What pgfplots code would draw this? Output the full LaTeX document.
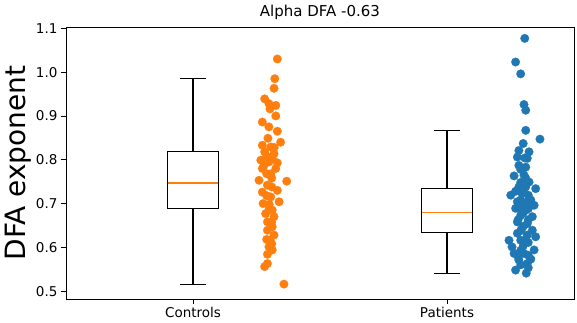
\documentclass[border=0pt]{standalone}
\usepackage{fontspec}
\setmainfont{DejaVu Sans}
\usepackage{pgfplots}
\pgfplotsset{compat=1.18}
\usepgfplotslibrary{statistics}
\definecolor{c0}{HTML}{1F77B4}
\definecolor{c1}{HTML}{FF7F0E}
\begin{document}
\begin{tikzpicture}
\begin{axis}[
  at={(0,0)}, anchor=south west,
  scale only axis, width=508pt, height=272pt,
  xmin=0.5, xmax=2.5, ymin=0.482, ymax=1.103,
  xtick={1,2}, xticklabels={Controls,Patients},
  ytick={0.5,0.6,0.7,0.8,0.9,1.0,1.1},
  yticklabels={0.5,0.6,0.7,0.8,0.9,1.0,1.1},
  tick align=outside, major tick length=5pt,
  tick style={black, line width=0.8pt},
  xtick pos=bottom, ytick pos=left,
  axis line style={line width=0.8pt},
  ticklabel style={font=\fontsize{13.5}{16}\selectfont},
  /pgf/number format/assume math mode=true,
  boxplot/draw direction=y,
  title={Alpha DFA -0.63},
  title style={at={(axis description cs:0.5,1)}, anchor=base, yshift=4pt, font=\fontsize{15}{18}\selectfont},
  ylabel={DFA exponent},
  ylabel style={at={(axis description cs:-0.0945,0.5)}, anchor=center, font=\fontsize{28}{32}\selectfont},
]
% Controls box
\addplot[draw=black, line width=1.1pt, mark=none,
  boxplot prepared={draw position=1, median=0.747, upper quartile=0.819, lower quartile=0.688,
  upper whisker=0.985, lower whisker=0.516, box extend=0.2, whisker extend=0.1,
  every median/.style={draw=c1, line width=1.2pt}}] coordinates {};
% Patients box
\addplot[draw=black, line width=1.1pt, mark=none,
  boxplot prepared={draw position=2, median=0.680, upper quartile=0.734, lower quartile=0.634,
  upper whisker=0.867, lower whisker=0.541, box extend=0.2, whisker extend=0.1,
  every median/.style={draw=c1, line width=1.2pt}}] coordinates {};
% Controls points
\addplot[only marks, color=c1, mark=*, mark size=4.3pt, mark options={draw=c1, fill=c1, line width=0.2pt}] coordinates {
(1.332,1.030) (1.322,0.985) (1.319,0.963) (1.282,0.939) (1.299,0.928) (1.326,0.924)
(1.303,0.916) (1.326,0.900) (1.273,0.886) (1.299,0.875) (1.332,0.865) (1.295,0.849)
(1.345,0.840) (1.273,0.833) (1.306,0.829) (1.282,0.818) (1.319,0.814) (1.267,0.799)
(1.299,0.795) (1.332,0.793) (1.312,0.803) (1.273,0.780) (1.326,0.780) (1.306,0.768)
(1.260,0.753) (1.369,0.751) (1.293,0.742) (1.332,0.730) (1.273,0.726) (1.306,0.715)
(1.339,0.704) (1.276,0.700) (1.312,0.685) (1.286,0.677) (1.319,0.670) (1.293,0.658)
(1.312,0.647) (1.293,0.639) (1.319,0.628) (1.303,0.616) (1.299,0.601) (1.312,0.594)
(1.293,0.584) (1.293,0.563) (1.282,0.556) (1.358,0.516)
(1.29,0.768) (1.31,0.758) (1.31,0.738) (1.29,0.718) (1.30,0.698) (1.30,0.688)
(1.29,0.808) (1.28,0.788) (1.32,0.828) (1.31,0.658) (1.29,0.618) (1.31,0.608)
};
% Patients points
\addplot[only marks, color=c0, mark=*, mark size=4.3pt, mark options={draw=c0, fill=c0, line width=0.2pt}] coordinates {
(2.306,1.077) (2.270,1.023) (2.290,0.996) (2.303,0.926) (2.310,0.913) (2.310,0.867)
(2.366,0.847) (2.300,0.837) (2.283,0.821) (2.323,0.818) (2.277,0.806) (2.306,0.804)
(2.316,0.803) (2.283,0.787) (2.310,0.783) (2.264,0.763) (2.303,0.765) (2.323,0.749)
(2.283,0.738) (2.349,0.734) (2.251,0.719) (2.295,0.723) (2.320,0.719) (2.277,0.704)
(2.316,0.704) (2.343,0.696) (2.270,0.689) (2.310,0.685) (2.290,0.673) (2.336,0.670)
(2.277,0.658) (2.316,0.654) (2.295,0.643) (2.336,0.639) (2.277,0.632) (2.316,0.628)
(2.349,0.624) (2.244,0.616) (2.290,0.616) (2.320,0.611) (2.256,0.601) (2.343,0.594)
(2.264,0.586) (2.303,0.586) (2.320,0.582) (2.283,0.571) (2.316,0.563) (2.290,0.560)
(2.312,0.541)
(2.29,0.778) (2.31,0.758) (2.29,0.748) (2.31,0.738) (2.30,0.728) (2.27,0.728)
(2.33,0.708) (2.29,0.708) (2.30,0.698) (2.32,0.688) (2.29,0.688) (2.30,0.678)
(2.32,0.663) (2.28,0.663) (2.30,0.648) (2.29,0.638) (2.31,0.618) (2.30,0.603)
(2.29,0.593) (2.28,0.578) (2.33,0.573) (2.27,0.548) (2.32,0.553)
};
\end{axis}
\pgfresetboundingbox
\path[use as bounding box] (-66pt,-23pt) rectangle (511pt,299pt);
\end{tikzpicture}
\end{document}
